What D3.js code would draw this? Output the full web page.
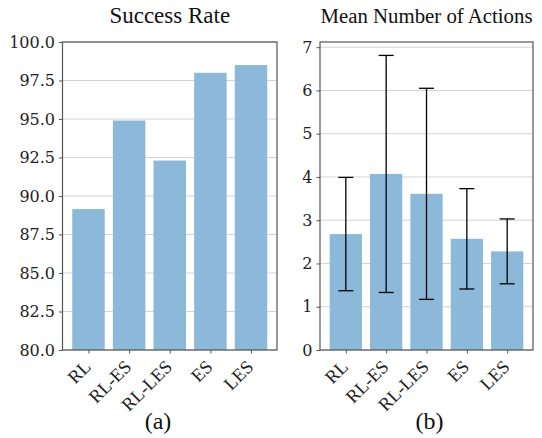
<!DOCTYPE html>
<html>
<head>
<meta charset="utf-8">
<script src="https://cdn.jsdelivr.net/npm/d3@7"></script>
<style>
  html, body { margin: 0; padding: 0; background: #fff; }
  svg { display: block; }
  .num { font-family: "DejaVu Serif", "Liberation Serif", serif; }
  .txt { font-family: "Liberation Serif", "Times New Roman", serif; }
</style>
</head>
<body>
<svg id="chart" width="542" height="438"></svg>
<script>
// Methods compared in both panels
const methods = ["RL", "RL-ES", "RL-LES", "ES", "LES"];

// Panel (a): success rate per method (%)
const successRate = [89.15, 94.9, 92.3, 98.0, 98.5];
const successTicks = [80.0, 82.5, 85.0, 87.5, 90.0, 92.5, 95.0, 97.5, 100.0];

// Panel (b): mean number of actions with standard deviation
const meanActions = [2.68, 4.07, 3.61, 2.57, 2.28];
const stdActions = [1.31, 2.74, 2.44, 1.16, 0.75];
const actionTicks = [0, 1, 2, 3, 4, 5, 6, 7];

const svg = d3.select("#chart");
const barColor = "#8cb9d9";
const frameColor = "#555555";
const gridColor = "#d3d3d3";

function panel(opts) {
  const { x0, x1, y0, y1, yDomain, ticks, fmt, values, errors, title, titleSize, caption } = opts;
  const g = svg.append("g");

  const x = d3.scaleLinear().domain([-0.64, methods.length - 1 + 0.64]).range([x0, x1]);
  const y = d3.scaleLinear().domain(yDomain).range([y1, y0]);
  const bw = x(0.8) - x(0);

  // horizontal grid
  g.append("g").selectAll("line").data(ticks).join("line")
    .attr("x1", x0).attr("x2", x1)
    .attr("y1", d => y(d)).attr("y2", d => y(d))
    .attr("stroke", gridColor).attr("stroke-width", 1);

  // bars
  g.append("g").selectAll("rect").data(values).join("rect")
    .attr("x", (d, i) => x(i) - bw / 2)
    .attr("width", bw)
    .attr("y", d => y(d))
    .attr("height", d => y(yDomain[0]) - y(d))
    .attr("fill", barColor);

  // error bars
  if (errors) {
    const eg = g.append("g").attr("stroke", "#000").attr("stroke-width", 1.3);
    values.forEach((v, i) => {
      const cx = x(i);
      const hi = y(v + errors[i]), lo = y(v - errors[i]);
      eg.append("line").attr("x1", cx).attr("x2", cx).attr("y1", hi).attr("y2", lo);
      eg.append("line").attr("x1", cx - 7.5).attr("x2", cx + 7.5).attr("y1", hi).attr("y2", hi);
      eg.append("line").attr("x1", cx - 7.5).attr("x2", cx + 7.5).attr("y1", lo).attr("y2", lo);
    });
  }

  // y axis
  const yAxis = d3.axisLeft(y).tickValues(ticks).tickFormat(fmt).tickSize(3.5).tickPadding(4);
  const ya = g.append("g").attr("transform", `translate(${x0},0)`).call(yAxis)
    .attr("font-family", null).attr("font-size", null);
  ya.select(".domain").remove();
  ya.selectAll(".tick line").attr("stroke", frameColor);
  ya.selectAll(".tick text")
    .attr("class", "num").style("font-size", "16px").attr("fill", "#222");

  // x axis
  const xAxis = d3.axisBottom(x).tickValues(d3.range(methods.length))
    .tickFormat(i => methods[i]).tickSize(3.5);
  const xa = g.append("g").attr("transform", `translate(0,${y1})`).call(xAxis)
    .attr("font-family", null).attr("font-size", null);
  xa.select(".domain").remove();
  xa.selectAll(".tick line").attr("stroke", frameColor);
  xa.selectAll(".tick text")
    .attr("class", "txt").style("font-size", "18.5px").attr("fill", "#222")
    .attr("text-anchor", "end")
    .attr("dy", null).attr("y", null)
    .attr("transform", "translate(3,18) rotate(-45)");

  // frame
  g.append("rect")
    .attr("x", x0).attr("y", y0).attr("width", x1 - x0).attr("height", y1 - y0)
    .attr("fill", "none").attr("stroke", frameColor).attr("stroke-width", 1.2);

  // title
  g.append("text")
    .attr("class", "txt")
    .attr("x", (x0 + x1) / 2).attr("y", 23)
    .attr("text-anchor", "middle")
    .style("font-size", titleSize + "px").attr("fill", "#111")
    .text(title);

  // caption
  g.append("text")
    .attr("class", "txt")
    .attr("x", opts.captionX).attr("y", 429)
    .attr("text-anchor", "middle")
    .style("font-size", "24px").attr("fill", "#111")
    .text(caption);
}

panel({
  x0: 62.5, x1: 277, y0: 42, y1: 350,
  yDomain: [80, 100], ticks: successTicks, fmt: d3.format(".1f"),
  values: successRate, errors: null,
  title: "Success Rate", titleSize: 23, caption: "(a)", captionX: 158
});

panel({
  x0: 320, x1: 533, y0: 42, y1: 350,
  yDomain: [0, 7.12], ticks: actionTicks, fmt: d3.format("d"),
  values: meanActions, errors: stdActions,
  title: "Mean Number of Actions", titleSize: 20.8, caption: "(b)", captionX: 429.5
});
</script>
</body>
</html>
